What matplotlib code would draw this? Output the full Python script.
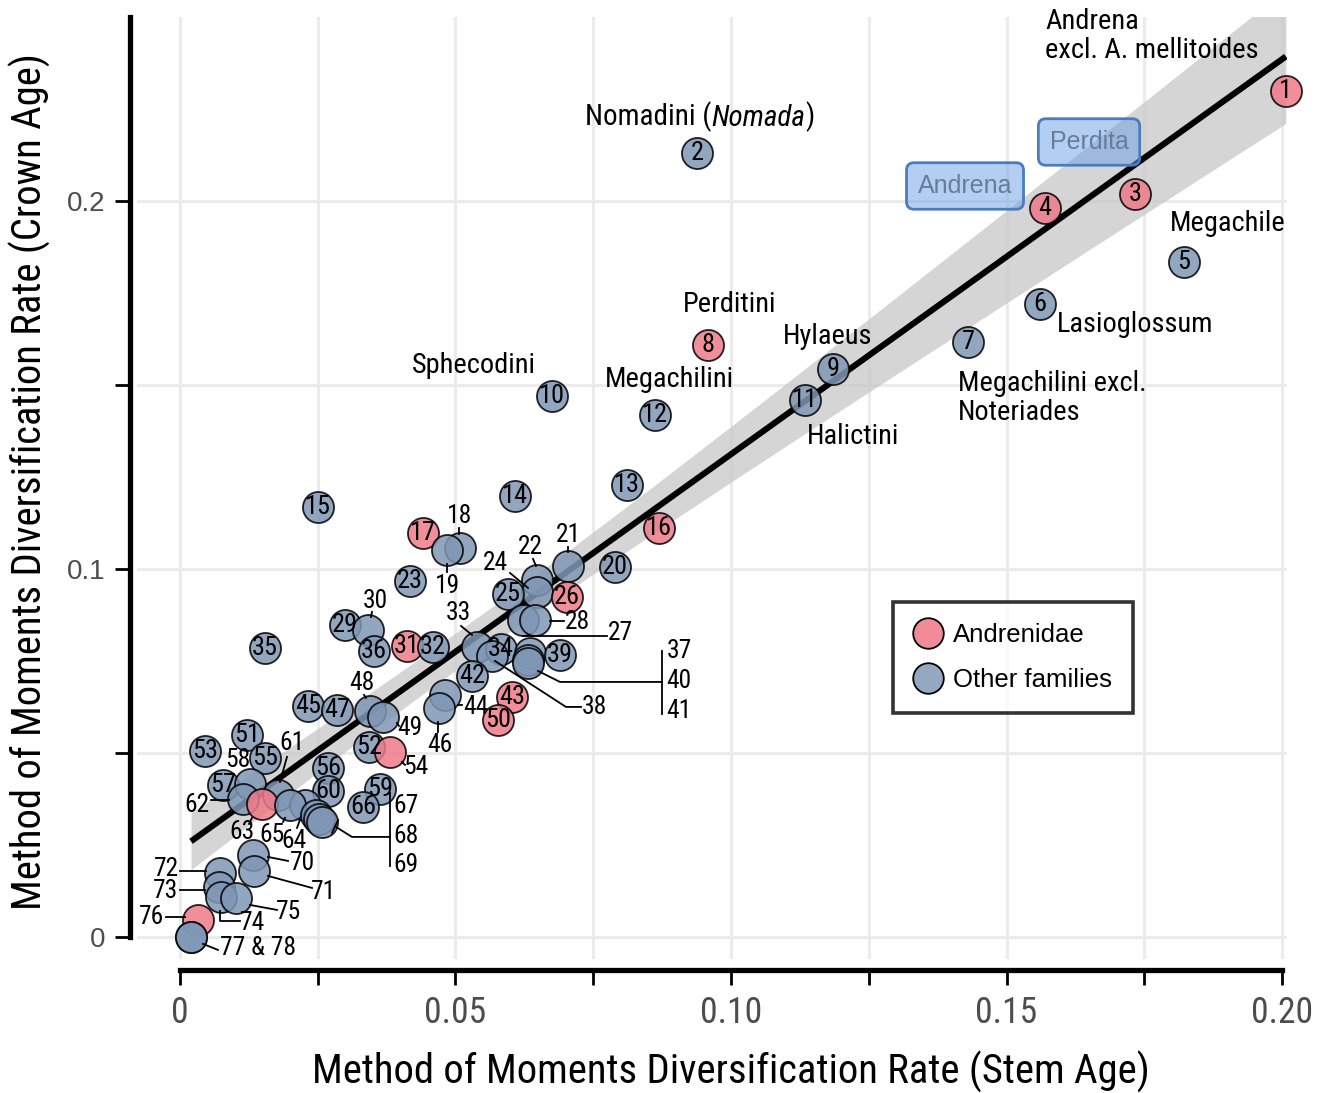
import numpy as np
import matplotlib
matplotlib.use("Agg")
import matplotlib.pyplot as plt
from matplotlib import font_manager as fm
from matplotlib.lines import Line2D

# ── Data ─────────────────────────────────────────────────────────────────────
clade_id = list(range(1, 79))
stem_rate = [
    0.2007, 0.0938, 0.1733, 0.1570, 0.1822, 0.1561, 0.1430, 0.0958, 0.1185, 0.0675,
    0.1134, 0.0862, 0.0811, 0.0608, 0.0250, 0.0869, 0.0441, 0.0508, 0.0485, 0.0789,
    0.0704, 0.0648, 0.0417, 0.0648, 0.0595, 0.0702, 0.0623, 0.0644, 0.0299, 0.0341,
    0.0412, 0.0459, 0.0539, 0.0583, 0.0154, 0.0352, 0.0635, 0.0566, 0.0690, 0.0632,
    0.0632, 0.0530, 0.0603, 0.0481, 0.0232, 0.0470, 0.0285, 0.0345, 0.0368, 0.0577,
    0.0122, 0.0343, 0.0045, 0.0381, 0.0154, 0.0269, 0.0078, 0.0127, 0.0363, 0.0269,
    0.0178, 0.0114, 0.0149, 0.0227, 0.0200, 0.0332, 0.0247, 0.0252, 0.0258, 0.0132,
    0.0134, 0.0073, 0.0071, 0.0074, 0.0102, 0.0033, 0.0020, 0.0020,
]
crown_rate = [
    0.2299, 0.2130, 0.2019, 0.1981, 0.1834, 0.1720, 0.1617, 0.1609, 0.1543, 0.1470,
    0.1459, 0.1418, 0.1228, 0.1198, 0.1168, 0.1111, 0.1098, 0.1057, 0.1052, 0.1005,
    0.1008, 0.0970, 0.0967, 0.0938, 0.0932, 0.0924, 0.0861, 0.0861, 0.0848, 0.0834,
    0.0791, 0.0788, 0.0788, 0.0783, 0.0785, 0.0777, 0.0772, 0.0764, 0.0766, 0.0753,
    0.0745, 0.0709, 0.0652, 0.0658, 0.0628, 0.0622, 0.0617, 0.0614, 0.0598, 0.0590,
    0.0549, 0.0516, 0.0505, 0.0503, 0.0486, 0.0459, 0.0413, 0.0416, 0.0402, 0.0397,
    0.0386, 0.0375, 0.0361, 0.0359, 0.0359, 0.0353, 0.0332, 0.0321, 0.0313, 0.0223,
    0.0179, 0.0174, 0.0136, 0.0109, 0.0106, 0.0046, 0.0000, 0.0000,
]
andrenidae_ids = [1, 3, 4, 8, 16, 17, 26, 31, 43, 50, 54, 63, 76]
inside_label_ids = [1, 2, 3, 4, 5, 6, 7, 8, 9, 10, 11, 12, 13, 14, 15, 16, 17, 20,
                    23, 25, 26, 29, 31, 32, 34, 35, 36, 39, 42, 43, 45, 47, 50, 51,
                    52, 53, 55, 56, 57, 59, 60, 66]

COL_ANDR = "#EE7A89"
COL_OTHER = "#7F97B5"


# ── Fonts: the original uses a narrow sans; take the narrowest one installed ─
def pick_narrow():
    fonts = [(f.name, f.stretch, f.style) for f in fm.fontManager.ttflist]
    for name in ["Liberation Sans Narrow", "Arial Narrow", "Roboto Condensed",
                 "Open Sans Condensed", "Noto Sans Condensed"]:
        if any(n == name for n, _, _ in fonts):
            return name, "normal"
    for name in ["Roboto", "Noto Sans", "Open Sans", "DejaVu Sans"]:
        for n, st, sty in fonts:
            if n == name and sty == "normal" and st in ("condensed", "semi-condensed"):
                return name, st
    return "Liberation Sans", "normal"


NARROW, STRETCH = pick_narrow()
REGULAR = ["Liberation Sans", "DejaVu Sans"]
plt.rcParams["font.family"] = [NARROW, "DejaVu Sans"]
plt.rcParams["font.stretch"] = STRETCH

x = np.array(stem_rate)
y = np.array(crown_rate)


def ref(xp, yp):
    """reference-picture pixel -> data units"""
    return (xp - 180) / 5510, (937 - yp) / 3680


fig = plt.figure(figsize=(13.17, 10.93), dpi=100)

# axis titles first: their measured width sets the scale for all narrow text
xl = fig.text(731 / 1317, 1 - 1072 / 1093, "Method of Moments Diversification Rate (Stem Age)",
              ha="center", va="center", fontsize=28)
fig.canvas.draw()
k = 837 / xl.get_window_extent().width
xl.set_fontsize(28 * k)
fig.text(30 / 1317, 1 - 482 / 1093, "Method of Moments Diversification Rate (Crown Age)",
         ha="center", va="center", rotation=90, fontsize=28 * k)

ax = fig.add_axes([137 / 1317, 1 - 959 / 1093, 1150 / 1317, 942 / 1093])
ax.set_xlim(-0.0078, 0.2009)
ax.set_ylim(-0.006, 0.25)

# grid + axes
ax.set_xticks(np.arange(0, 0.2001, 0.025))
ax.set_xticklabels(["0", "", "0.05", "", "0.10", "", "0.15", "", "0.20"])
ax.set_yticks([0, 0.05, 0.1, 0.15, 0.2])
ax.set_yticklabels(["0", "", "0.1", "", "0.2"])
ax.tick_params(axis="x", labelsize=24.5 * k, labelcolor="#4D4D4D")
ax.tick_params(axis="y", labelsize=20, labelcolor="#4D4D4D",
               labelfontfamily="Liberation Sans")
ax.tick_params(length=11, width=2.0, color="black", pad=7)
ax.grid(True, color="#EBEBEB", lw=2.2, zorder=0)
ax.set_axisbelow(True)
for s in ["top", "right"]:
    ax.spines[s].set_visible(False)
ax.spines["left"].set_position(("outward", 5))
ax.spines["bottom"].set_position(("outward", 8))
ax.spines["left"].set_bounds(0, 0.25)
ax.spines["bottom"].set_bounds(0, 0.2)
for s in ["left", "bottom"]:
    ax.spines[s].set_linewidth(3.8)

# regression line with 95% band (lm fit through all clades)
n = len(x)
b1, b0 = np.polyfit(x, y, 1)
resid = y - (b0 + b1 * x)
s_err = np.sqrt(np.sum(resid ** 2) / (n - 2))
xs = np.linspace(x.min(), x.max(), 200)
se = s_err * np.sqrt(1 / n + (xs - x.mean()) ** 2 / np.sum((x - x.mean()) ** 2))
fit = b0 + b1 * xs
ax.fill_between(xs, fit - 1.991 * se, fit + 1.991 * se, color="#C8C8C8", alpha=0.75,
                lw=0, zorder=1)
ax.plot(xs, fit, color="black", lw=4.4, zorder=2, solid_capstyle="butt")

# points
for cid, xv, yv in zip(clade_id, x, y):
    col = COL_ANDR if cid in andrenidae_ids else COL_OTHER
    ax.scatter(xv, yv, s=500, color=col, alpha=0.85, edgecolor="black", linewidth=1.3,
               zorder=3, clip_on=False)
    if cid in inside_label_ids:
        ax.text(xv, yv, str(cid), ha="center", va="center", fontsize=18 * k, zorder=4)

# call-out labels for crowded clades
callouts = [
    ("18", (460, 516), [(459, 528), (459, 534)]),
    ("19", (448, 586), [(447, 564), (447, 572)]),
    ("21", (568, 535), [(568, 547), (568, 552)]),
    ("22", (530, 547), [(533, 559), (536, 566)]),
    ("24", (495, 563), [(510, 573), (528, 588)]),
    ("28", (577, 622), [(550, 621), (564, 621)]),
    ("27", (620, 633), [(523, 636), (607, 636)]),
    ("30", (375, 601), [(372, 612), (371, 617)]),
    ("33", (458, 613), [(461, 626), (472, 635)]),
    ("38", (594, 707), [(495, 661), (566, 707), (581, 707)]),
    ("44", (476, 707), [(458, 705), (462, 705)]),
    ("46", (440, 745), [(438, 722), (438, 732)]),
    ("48", (362, 683), [(364, 695), (366, 698)]),
    ("49", (410, 728), [(397, 723), (399, 726)]),
    ("54", (416, 767), [(402, 762), (405, 765)]),
    ("58", (238, 760), []),
    ("61", (292, 743), [(287, 757), (280, 782)]),
    ("62", (197, 805), [(211, 800), (229, 800)]),
    ("63", (242, 832), [(252, 818), (249, 824)]),
    ("65", (272, 835), [(285, 818), (283, 822)]),
    ("64", (294, 841), [(300, 820), (297, 828)]),
    ("70", (302, 863), [(268, 857), (288, 861)]),
    ("71", (324, 892), [(268, 876), (312, 888)]),
    ("72", (166, 869), [(180, 871), (206, 871)]),
    ("73", (166, 891), [(180, 890), (205, 890)]),
    ("74", (253, 923), [(220, 911), (220, 921), (240, 921)]),
    ("75", (289, 912), [(250, 905), (277, 910)]),
    ("76", (152, 917), [(166, 917), (185, 917)]),
    ("77 & 78", (258, 948), [(203, 944), (218, 950)]),
    ("37", (679, 651), [(538, 671), (560, 682), (662, 682)]),
    ("40", (679, 681), [(662, 651), (662, 714)]),
    ("41", (679, 711), []),
    ("67", (406, 806), [(336, 827), (352, 837), (390, 837)]),
    ("68", (406, 836), [(390, 793), (390, 866)]),
    ("69", (406, 865), [(338, 820), (332, 833)]),
]
for txt, pos, seg in callouts:
    tx, ty = ref(*pos)
    ax.text(tx, ty, txt, ha="center", va="center", fontsize=17.5 * k, zorder=6,
            clip_on=False)
    if seg:
        pts = np.array([ref(*p) for p in seg])
        ax.plot(pts[:, 0], pts[:, 1], color="black", lw=1.3, zorder=5, clip_on=False)

# clade names
names = [
    ("Andrena\nexcl. A. mellitoides", (1045, 36), "left"),
    ("Perditini", (730, 305), "center"),
    ("Hylaeus", (828, 337), "center"),
    ("Sphecodini", (474, 366), "center"),
    ("Megachilini", (669, 380), "center"),
    ("Halictini", (853, 437), "center"),
    ("Megachilini excl.\nNoteriades", (958, 398), "left"),
    ("Lasioglossum", (1057, 325), "left"),
    ("Megachile", (1170, 224), "left"),
]
for txt, pos, ha in names:
    tx, ty = ref(*pos)
    ax.text(tx, ty, txt, ha=ha, va="center", fontsize=19.5 * k, linespacing=1.1,
            zorder=6, clip_on=False)

# "Nomadini (Nomada)" with the genus in italics, pieces chained left to right
tx, ty = ref(585, 117)
t1 = ax.text(tx, ty, "Nomadini (", ha="left", va="center", fontsize=20 * k, zorder=6)
t2 = ax.annotate("Nomada", xy=(1, 0), xycoords=t1, ha="left", va="bottom",
                 fontsize=20 * k, style="italic", zorder=6)
ax.annotate(")", xy=(1, 0), xycoords=t2, ha="left", va="bottom", fontsize=20 * k,
            zorder=6)

for txt, pos in [("Andrena", (965, 186)), ("Perdita", (1089, 142))]:
    tx, ty = ref(*pos)
    ax.text(tx, ty, txt, ha="center", va="center", family=REGULAR, fontstretch="normal",
            fontsize=18, color="#667C9C", zorder=7,
            bbox=dict(boxstyle="round,pad=0.45,rounding_size=0.3",
                      fc=(0.42, 0.62, 0.90, 0.5), ec="#4A7CC0", lw=2))

# legend
handles = [
    Line2D([], [], ls="", marker="o", ms=22, mfc="#F28B98", mec="black", mew=1.3,
           label="Andrenidae"),
    Line2D([], [], ls="", marker="o", ms=22, mfc="#95A8C1", mec="black", mew=1.3,
           label="Other families"),
]
leg = ax.legend(handles=handles, loc="upper left",
                bbox_to_anchor=(893 / 1317, 1 - 602 / 1093), bbox_transform=fig.transFigure,
                prop={"family": REGULAR, "size": 18.5}, frameon=True, fancybox=False,
                handletextpad=0.45, borderpad=0.8, labelspacing=0.85, handlelength=1.1,
                borderaxespad=0)
leg.get_frame().set_edgecolor("black")
leg.get_frame().set_linewidth(2.6)
leg.set_zorder(8)

fig.savefig("out.png", dpi=100)
